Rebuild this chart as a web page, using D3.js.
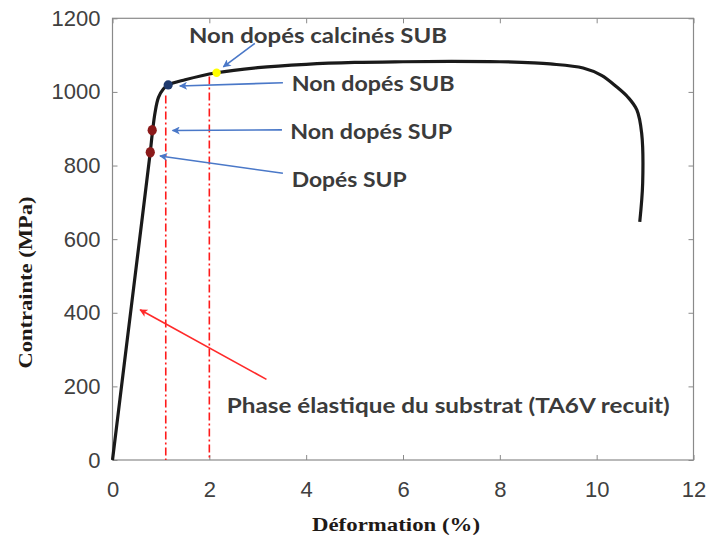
<!DOCTYPE html>
<html><head><meta charset="utf-8">
<script src="https://cdn.jsdelivr.net/npm/d3@7"></script>
<style>body{margin:0;background:#fff}svg{display:block}</style>
</head><body>
<svg id="chart" width="713" height="542"></svg>
<script>
// ---- data ----
const strain = [0,0.26,0.52,0.78,0.82,0.88,0.95,1.05,1.15,1.5,2.15,3,4,5,6,7,8,8.7,9.04,9.72,10.1,10.41,10.65,10.83,10.93,10.95,10.89];
const stress = [0,279,557,836,885,945,985,1008,1019,1033,1052,1066,1075,1080,1082,1083,1082,1079,1076,1065,1045,1014,985,951,887,752,647];
const xTicks = [0,2,4,6,8,10,12];
const yTicks = [0,200,400,600,800,1000,1200];
const pointX = [2.15,1.15,0.82,0.78];
const pointY = [1052,1019,896,836];
const pointColor = ["#ffff00","#1f3a6e","#8b1a1a","#8b1a1a"];
const vlineX = [1.1,2.0];
const vlineTop = [990,1042];
const labelText = ["Non dopés calcinés SUB","Non dopés SUB","Non dopés SUP","Dopés SUP","Phase élastique du substrat (TA6V recuit)"];
const labelX = [1.58,3.70,3.67,3.70,2.36];
const labelY = [1132,1002,872,742,127];
const labelW = [258,163,162,115,443];
const arrowFromX = [2.94,3.52,3.50,3.52,3.18];
const arrowFromY = [1132,1025,897,779,219];
const arrowToX = [2.29,1.39,1.24,0.98,0.57];
const arrowToY = [1068,1016,895,826,408];
const arrowColor = ["#4a78c8","#4a78c8","#4a78c8","#4a78c8","#ff2a2a"];

// ---- chart ----
const svg = d3.select("#chart");
svg.append("rect").attr("width",713).attr("height",542).attr("fill","#fff");
const x = d3.scaleLinear().domain([0,12]).range([112.5,693.5]);
const y = d3.scaleLinear().domain([0,1200]).range([460,18.3]);

const defs = svg.append("defs");
["blue","red"].forEach((n,i)=>{
  defs.append("marker").attr("id","ah-"+n).attr("viewBox","0 0 10 10")
    .attr("refX",9).attr("refY",5).attr("markerWidth",9).attr("markerHeight",8)
    .attr("markerUnits","userSpaceOnUse").attr("orient","auto")
    .append("path").attr("d","M0,0L10,5L0,10L2.5,5Z").attr("fill", i===0?"#4a78c8":"#ff2a2a");
});

const axisColor = "#8a8a8a";
const tickFont = "'Liberation Sans', Arial, sans-serif";
function styleAxis(g){
  g.select(".domain").remove();
  g.selectAll(".tick line").attr("stroke",axisColor);
  g.selectAll(".tick text").attr("fill","#404040").style("font-family",tickFont).style("font-size","22px");
}
svg.append("g").attr("transform",`translate(0,${y(0)})`)
  .call(d3.axisBottom(x).tickValues(xTicks).tickSize(-5).tickPadding(21).tickFormat(d3.format("d"))).call(styleAxis);
svg.append("g").attr("transform",`translate(${x(0)},0)`)
  .call(d3.axisLeft(y).tickValues(yTicks).tickSize(-5).tickPadding(12).tickFormat(d3.format("d"))).call(styleAxis);
svg.append("g").attr("transform",`translate(0,${y(1200)})`)
  .call(d3.axisTop(x).tickValues(xTicks).tickSize(-5).tickFormat("")).call(styleAxis);
svg.append("g").attr("transform",`translate(${x(12)},0)`)
  .call(d3.axisRight(y).tickValues(yTicks).tickSize(-5).tickFormat("")).call(styleAxis);
svg.append("rect").attr("x",x(0)).attr("y",y(1200)).attr("width",x(12)-x(0)).attr("height",y(0)-y(1200))
  .attr("fill","none").attr("stroke",axisColor).attr("stroke-width",1.2);

// red dash-dot verticals
svg.selectAll(".vline").data(vlineX).join("line").attr("class","vline")
  .attr("x1",d=>x(d)).attr("x2",d=>x(d)).attr("y1",(d,i)=>y(vlineTop[i])).attr("y2",y(0))
  .attr("stroke","#ff1a1a").attr("stroke-width",1.6).attr("stroke-dasharray","8,3,2,3");

// curve
const pts = strain.map((s,i)=>[s,stress[i]]);
svg.append("path").datum(pts)
  .attr("d", d3.line().x(d=>x(d[0])).y(d=>y(d[1])).curve(d3.curveCatmullRom.alpha(0.5)))
  .attr("fill","none").attr("stroke","#1a1a1a").attr("stroke-width",3.2).attr("stroke-linejoin","round");

// points
svg.selectAll(".pt").data(pointX).join("ellipse").attr("class","pt")
  .attr("cx",d=>x(d)).attr("cy",(d,i)=>y(pointY[i]))
  .attr("rx",(d,i)=>i===0?4.2:4.6).attr("ry",(d,i)=>i===0?4.2:(i===1?4.6:5.2))
  .attr("fill",(d,i)=>pointColor[i]);

// arrows
svg.selectAll(".arr").data(arrowFromX).join("line").attr("class","arr")
  .attr("x1",d=>x(d)).attr("y1",(d,i)=>y(arrowFromY[i]))
  .attr("x2",(d,i)=>x(arrowToX[i])).attr("y2",(d,i)=>y(arrowToY[i]))
  .attr("stroke",(d,i)=>arrowColor[i]).attr("stroke-width",1.6)
  .attr("marker-end",(d,i)=>i===4?"url(#ah-red)":"url(#ah-blue)");

// annotation labels
svg.selectAll(".lab").data(labelText).join("text").attr("class","lab")
  .attr("x",(d,i)=>x(labelX[i])).attr("y",(d,i)=>y(labelY[i]))
  .attr("textLength",(d,i)=>labelW[i]).attr("lengthAdjust","spacingAndGlyphs")
  .style("font-family","Lato, 'Open Sans', sans-serif").style("font-weight","bold").style("font-size","21px")
  .attr("fill","#3b3b3b").text(d=>d);

// axis titles
svg.append("text").attr("x",396).attr("y",531).attr("text-anchor","middle")
  .style("font-family","'Liberation Serif', 'Times New Roman', serif").style("font-weight","bold").style("font-size","19px")
  .attr("fill","#1f1a17").attr("textLength",168).attr("lengthAdjust","spacingAndGlyphs").text("Déformation (%)");
svg.append("text").attr("transform","translate(32,282.5) rotate(-90)").attr("text-anchor","middle")
  .style("font-family","'Liberation Serif', 'Times New Roman', serif").style("font-weight","bold").style("font-size","19px")
  .attr("fill","#1f1a17").attr("textLength",172).attr("lengthAdjust","spacingAndGlyphs").text("Contrainte (MPa)");
</script>
</body></html>
